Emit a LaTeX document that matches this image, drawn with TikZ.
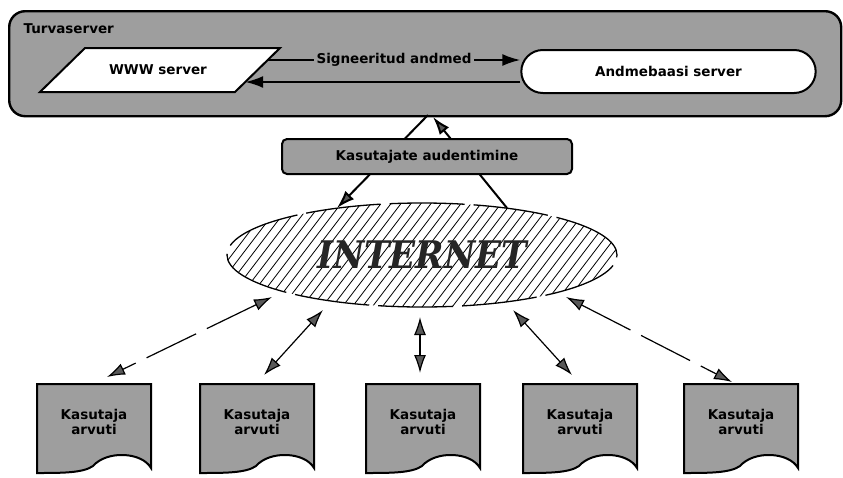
\documentclass[tikz,border=0pt]{standalone}
\usepackage{fontspec}
\setmainfont{DejaVu Sans}
\newfontfamily\inetfont{DejaVu Serif}[FakeStretch=0.9]
\usetikzlibrary{arrows.meta,shapes.geometric,shapes.misc}
\tikzset{
  lbl/.style={font=\fontsize{13.5}{15}\selectfont\bfseries},
  greybox/.style={draw=black, line width=2pt, fill=black!38},
  conn/.style={line width=2pt},
  thinconn/.style={line width=1.2pt},
  blacktip/.style={-{Latex[length=18pt,width=12pt]}},
  >={Latex[length=18pt,width=12pt,fill=black!65]},
  docshape/.style={draw=black, line width=2pt, fill=black!38},
}
\newcommand\userdoc[3]{%
  \draw[docshape, shift={(#1,384)}] (0,0) -- (114,0) -- (114,84)
    .. controls (105,68) and (70,66) .. (56,82)
    .. controls (46,89) and (25,89) .. (0,89) -- cycle;
  \node[lbl, align=center] (#3) at (#2,422) {Kasutaja\\arvuti};
}
\begin{document}
\begin{tikzpicture}[x=1pt,y=-1pt]
\useasboundingbox (0,0) rectangle (843,477);

% Turvaserver frame
\node[greybox, line width=2.4pt, rounded corners=16pt, minimum width=832pt, minimum height=105pt, anchor=north west] (turva) at (8,10) {};
\node[lbl, anchor=west] (tlab) at (20,29) {Turvaserver};

% WWW server parallelogram
\draw[draw=black, line width=2pt, fill=white] (85,48) coordinate (wTL) -- (280,48) coordinate (wTR) -- (235,92) coordinate (wBR) -- (40,92) coordinate (wBL) -- cycle;
\node[lbl] (www) at (158,70) {WWW server};
\coordinate (wU) at (267.7,60);
\coordinate (wD) at (245.2,82);

% Andmebaasi server
\node[lbl, draw=black, line width=2pt, fill=white, rounded rectangle, minimum width=301pt, minimum height=43pt] (db) at (668.5,71.5) {Andmebaasi server};

\draw[conn, blacktip] (wU) -- node[lbl, fill=black!38, inner sep=3pt] (sig) {Signeeritud andmed} (wU -| db.west);
\draw[conn, blacktip] (db.west |- wD) -- (wD);

% links between frame and internet (behind auth box)
\coordinate (a1) at (428,115);
\coordinate (a2) at (433,117);
\coordinate (e1) at (337,208);
\coordinate (e2) at (507,208);
\draw[conn, ->] (a1) -- (e1);
\draw[conn, ->] (e2) -- (a2);

% auth box
\node[greybox, lbl, rounded corners=5pt, minimum width=290pt, minimum height=35pt] (auth) at (427,156.5) {Kasutajate audentimine};

% INTERNET hatch
\begin{scope}
  \clip (422,255) ellipse [x radius=195pt, y radius=52pt];
  \foreach \i in {0,...,50} {
    \draw[line width=0.8pt] (136+\i*10,315) -- ++(90,-118);
  }
\end{scope}
\node[ellipse, draw=black, line width=1.3pt, dash pattern=on 75pt off 9pt, minimum width=390pt, minimum height=104pt, inner sep=0pt, font=\inetfont\fontsize{38}{40}\selectfont\bfseries\itshape, text=black!85] (inet) at (422,255) {\raisebox{-2pt}{INTERNET}};

% user computers
\userdoc{37}{94}{k1}
\userdoc{200}{257}{k2}
\userdoc{366}{423}{k3}
\userdoc{523}{580}{k4}
\userdoc{684}{741}{k5}

% dashed links
\coordinate (i1) at (272,297); \coordinate (d1) at (107,377);
\coordinate (i2) at (323,310); \coordinate (d2) at (264,375);
\coordinate (i3) at (420,317); \coordinate (d3) at (420,373);
\coordinate (i4) at (513,310); \coordinate (d4) at (572,375);
\coordinate (i5) at (566,297); \coordinate (d5) at (732,382);
\draw[thinconn, <->, dash pattern=on 55pt off 12pt] (i1) -- (d1);
\draw[thinconn, <->, dash pattern=on 58pt off 8pt] (i2) -- (d2);
\draw[thinconn, <->] (i3) -- (d3);
\draw[thinconn, <->, dash pattern=on 58pt off 8pt] (i4) -- (d4);
\draw[thinconn, <->, dash pattern=on 55pt off 12pt] (i5) -- (d5);
\end{tikzpicture}
\end{document}
